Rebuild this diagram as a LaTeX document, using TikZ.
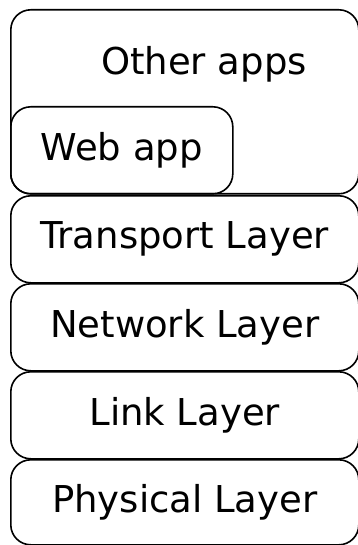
\documentclass[tikz,border=0pt]{standalone}
\usepackage{fontspec}
\setmainfont{DejaVu Sans}
\begin{document}
\begin{tikzpicture}[x=1pt,y=-1pt]
  \tikzset{
    box/.style={draw, rounded corners=20pt, line width=1.6pt, inner sep=0pt,
      anchor=north west, font=\fontsize{37}{40}\selectfont},
    wide/.style={box, minimum width=348pt, minimum height=87pt}
  }
  \useasboundingbox (0,0) rectangle (357,545);
  \node[box, minimum width=348pt, minimum height=184pt] (apps) at (10,9) {};
  \node[font=\fontsize{37}{40}\selectfont] (appstext) at (204,64) {Other apps};
  \node[box, minimum width=222pt, minimum height=87pt] (web) at (10,106) {Web app};
  \node[wide] (transport) at (10,195) {Transport Layer};
  \node[wide] (network) at (10,283) {Network Layer};
  \node[wide] (link) at (10,371) {Link Layer};
  \node[wide, minimum height=85pt] (physical) at (10,459) {Physical Layer};
\end{tikzpicture}
\end{document}
